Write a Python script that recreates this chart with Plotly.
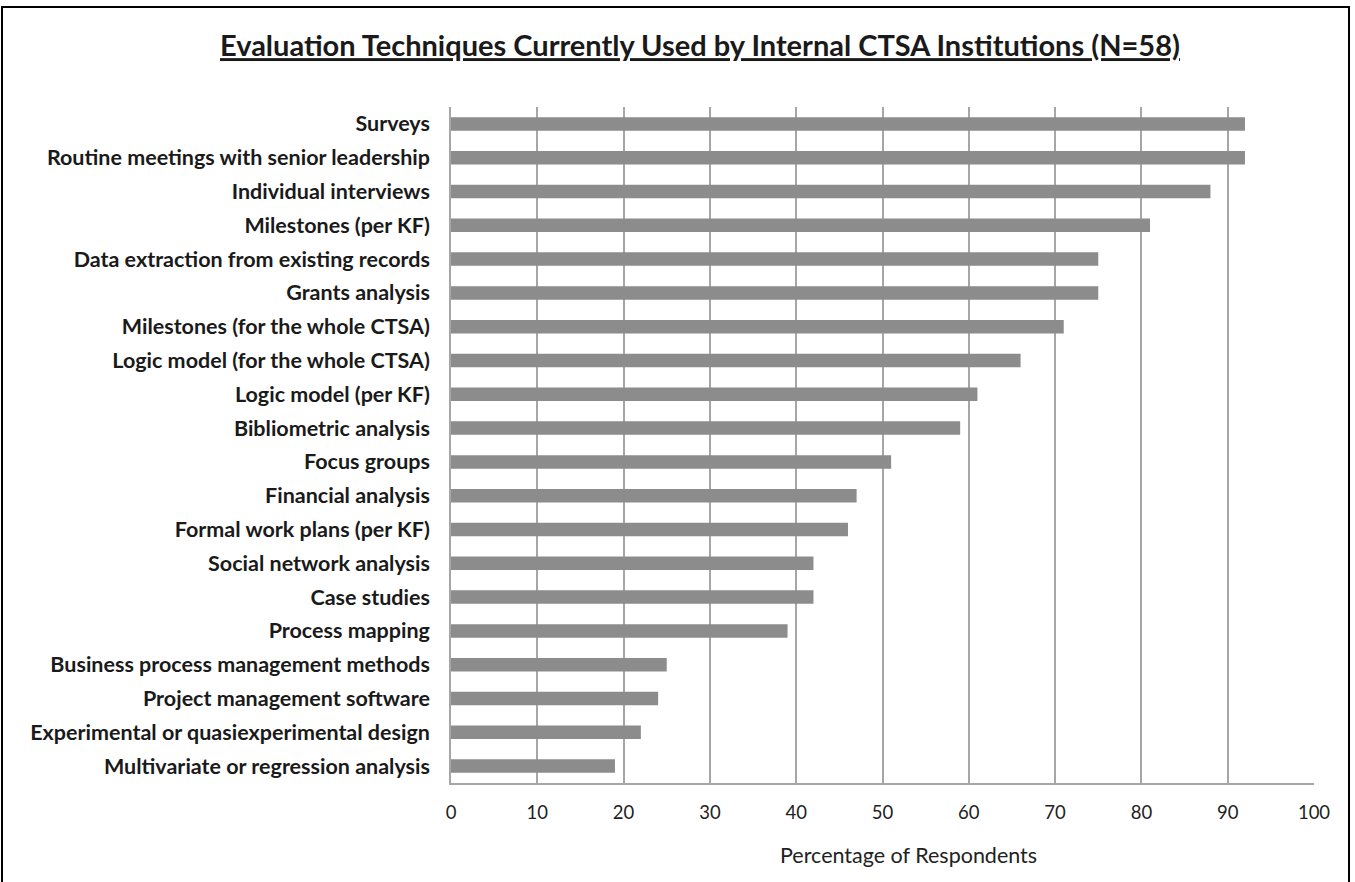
import plotly.graph_objects as go

categories = [
    "Surveys",
    "Routine meetings with senior leadership",
    "Individual interviews",
    "Milestones (per KF)",
    "Data extraction from existing records",
    "Grants analysis",
    "Milestones (for the whole CTSA)",
    "Logic model (for the whole CTSA)",
    "Logic model (per KF)",
    "Bibliometric analysis",
    "Focus groups",
    "Financial analysis",
    "Formal work plans (per KF)",
    "Social network analysis",
    "Case studies",
    "Process mapping",
    "Business process management methods",
    "Project management software",
    "Experimental or quasiexperimental design",
    "Multivariate or regression analysis",
]
values = [92, 92, 88, 81, 75, 75, 71, 66, 61, 59, 51, 47, 46, 42, 42, 39, 25, 24, 22, 19]
x_ticks = [0, 10, 20, 30, 40, 50, 60, 70, 80, 90, 100]

W, H = 1355, 882
L, R, T, B = 451, 1314, 107, 783
PW, PH = R - L, B - T

def px(x):
    return (x - L) / PW

def py(y):
    return (B - y) / PH

fig = go.Figure(go.Bar(
    x=values, y=categories, orientation="h",
    marker=dict(color="#8c8c8c", line=dict(width=0)),
    width=0.4,
    hoverinfo="x+y",
))

fig.update_layout(
    width=W, height=H,
    margin=dict(l=L, r=W - R, t=T, b=H - B),
    paper_bgcolor="white", plot_bgcolor="white",
    font=dict(family="Lato, 'Open Sans', sans-serif", color="#222"),
    showlegend=False,
    title=dict(
        text="<b><u>Evaluation Techniques Currently Used by Internal CTSA Institutions (N=58)</u></b>",
        x=700 / W, xanchor="center", y=1 - 46 / H, yanchor="middle",
        font=dict(size=29, color="#1a1a1a"),
    ),
    xaxis=dict(
        range=[0, 100], tickvals=x_ticks, ticks="",
        showgrid=True, gridcolor="#a6a6a6", gridwidth=1.5,
        showline=True, linecolor="#a6a6a6", linewidth=1.5,
        zeroline=False,
        tickfont=dict(size=18.5, color="#222"), ticklabelstandoff=12,
    ),
    yaxis=dict(
        autorange="reversed", showgrid=False,
        showline=True, linecolor="#a6a6a6", linewidth=1.5,
        ticks="", tickfont=dict(size=21.5, color="#1a1a1a", weight="bold"),
        ticklabelstandoff=15,
    ),
    annotations=[dict(
        text="Percentage of Respondents", xref="paper", yref="paper",
        x=px(908), y=py(855), xanchor="center", yanchor="middle",
        showarrow=False, font=dict(size=21.5, color="#222"),
    )],
    shapes=[dict(
        type="rect", xref="paper", yref="paper",
        x0=px(2), x1=px(1349), y0=py(900), y1=py(7),
        line=dict(color="black", width=2), fillcolor="rgba(0,0,0,0)",
        layer="below",
    )],
)

fig.write_html("out.html")
